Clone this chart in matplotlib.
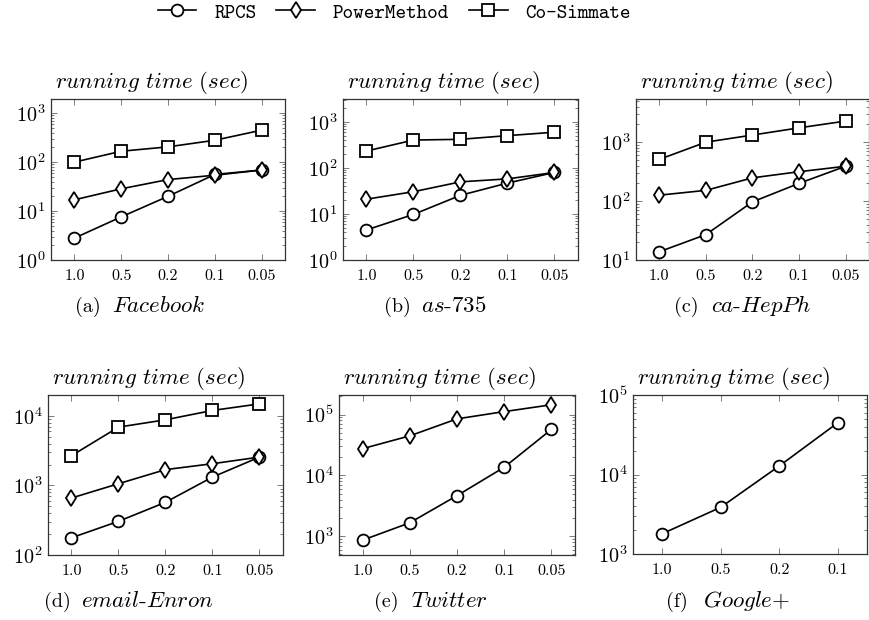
import matplotlib
matplotlib.use('Agg')
import matplotlib.pyplot as plt
from matplotlib.ticker import LogLocator, NullFormatter, FixedLocator, FixedFormatter

plt.rcParams['font.family'] = 'cmr10'
plt.rcParams['mathtext.fontset'] = 'cm'
plt.rcParams['axes.formatter.use_mathtext'] = True

# ---------------- data ----------------
rates = ['1.0', '0.5', '0.2', '0.1', '0.05']
gplus_rates = ['1.0', '0.5', '0.2', '0.1']

facebook_rpcs = [2.8, 7.6, 20, 56, 69]
facebook_power = [17, 28.5, 44, 54, 69]
facebook_cosim = [100, 167, 205, 280, 450]

as735_rpcs = [4.5, 9.8, 25.5, 47, 80]
as735_power = [21, 30.5, 50, 58, 80]
as735_cosim = [234, 405, 420, 505, 600]

hepph_rpcs = [13.8, 27, 97, 200, 390]
hepph_power = [126, 152, 248, 315, 390]
hepph_cosim = [510, 1000, 1320, 1750, 2280]

enron_rpcs = [177, 305, 573, 1320, 2560]
enron_power = [660, 1060, 1690, 2055, 2560]
enron_cosim = [2680, 6900, 8800, 12000, 14900]

twitter_rpcs = [860, 1660, 4640, 13600, 57000]
twitter_power = [27500, 44700, 85000, 112000, 145000]

gplus_rpcs = [1800, 3870, 12800, 44700]

series_names = ['RPCS', 'PowerMethod', 'Co-Simmate']
caption_tags = ['(a)', '(b)', '(c)', '(d)', '(e)', '(f)']
dataset_names = [r'$\mathit{Facebook}$', r'$\mathit{as}$-$\mathit{735}$',
                 r'$\mathit{ca}$-$\mathit{HepPh}$', r'$\mathit{email}$-$\mathit{Enron}$',
                 r'$\mathit{Twitter}$', r'$\mathit{Google}$+']
y_title = r'$\mathit{running\ time\ (sec)}$'

# ---------------- layout ----------------
W, H = 870, 620
fig = plt.figure(figsize=(W / 100, H / 100), dpi=100)


def rect(l, t, r, b):
    return [l / W, 1 - b / H, (r - l) / W, (b - t) / H]


panels = [
    dict(box=(51, 99, 285, 260), ylim=(1, 1950), x=rates,
         ys=[facebook_rpcs, facebook_power, facebook_cosim], cap_l=75, cap_y=312),
    dict(box=(343, 99, 578, 260), ylim=(1, 3160), x=rates,
         ys=[as735_rpcs, as735_power, as735_cosim], cap_l=384, cap_y=312),
    dict(box=(636, 99, 869, 260), ylim=(10, 5400), x=rates,
         ys=[hepph_rpcs, hepph_power, hepph_cosim], cap_l=674, cap_y=312),
    dict(box=(48, 395, 283, 555), ylim=(100, 20000), x=rates,
         ys=[enron_rpcs, enron_power, enron_cosim], cap_l=44, cap_y=607),
    dict(box=(339, 395, 575, 555), ylim=(490, 2.1e5), x=rates,
         ys=[twitter_rpcs, twitter_power], cap_l=374, cap_y=607),
    dict(box=(633, 395, 867, 554), ylim=(1e3, 1e5), x=gplus_rates,
         ys=[gplus_rpcs], cap_l=666, cap_y=607),
]

markers = ['o', 'd', 's']
msizes = [8.5, 8, 8]
handles = None

for i, p in enumerate(panels):
    ax = fig.add_axes(rect(*p['box']))
    xs = list(range(len(p['x'])))
    lines = []
    for k, yv in enumerate(p['ys']):
        ln, = ax.plot(xs, yv, color='black', lw=1.2, marker=markers[k],
                      ms=msizes[k], mfc='white', mec='black', mew=1.3,
                      label=series_names[k], zorder=3 + k * 0.1)
        lines.append(ln)
    if i == 0:
        handles = lines
    ax.set_yscale('log')
    ax.set_ylim(*p['ylim'])
    ax.set_xlim(-0.5, len(xs) - 0.5)
    ax.xaxis.set_major_locator(FixedLocator(xs))
    ax.xaxis.set_major_formatter(FixedFormatter(p['x']))
    ax.yaxis.set_major_locator(LogLocator(base=10, numticks=10))
    ax.yaxis.set_minor_locator(LogLocator(base=10, subs=range(2, 10), numticks=20))
    ax.yaxis.set_minor_formatter(NullFormatter())
    ax.tick_params(which='both', direction='in', top=True, right=True,
                   color='#666666', width=0.6)
    ax.tick_params(which='major', length=4.5)
    ax.tick_params(which='minor', length=2.5)
    ax.tick_params(axis='x', labelsize=11.5, pad=7)
    ax.tick_params(axis='y', labelsize=14.5, pad=4)
    for s in ax.spines.values():
        s.set_color('#333333')
        s.set_linewidth(0.9)
    l, t, r, b = p['box']
    fig.text((l + 4) / W, 1 - (t - 3) / H, y_title,
             fontsize=16.5, ha='left', va='bottom')
    fig.text(p['cap_l'] / W, 1 - p['cap_y'] / H, caption_tags[i],
             fontsize=14.5, ha='left', va='baseline')
    fig.text((p['cap_l'] + 37) / W, 1 - p['cap_y'] / H, dataset_names[i],
             fontsize=16.5, ha='left', va='baseline')

fig.legend(handles=handles, labels=series_names, loc='center',
           bbox_to_anchor=(394.5 / W, 1 - 13 / H), ncol=3, frameon=False,
           prop={'family': 'cmtt10', 'size': 14.5}, handlelength=1.9,
           handletextpad=0.9, columnspacing=1.0, borderpad=0)

fig.savefig('out.png', dpi=100)
